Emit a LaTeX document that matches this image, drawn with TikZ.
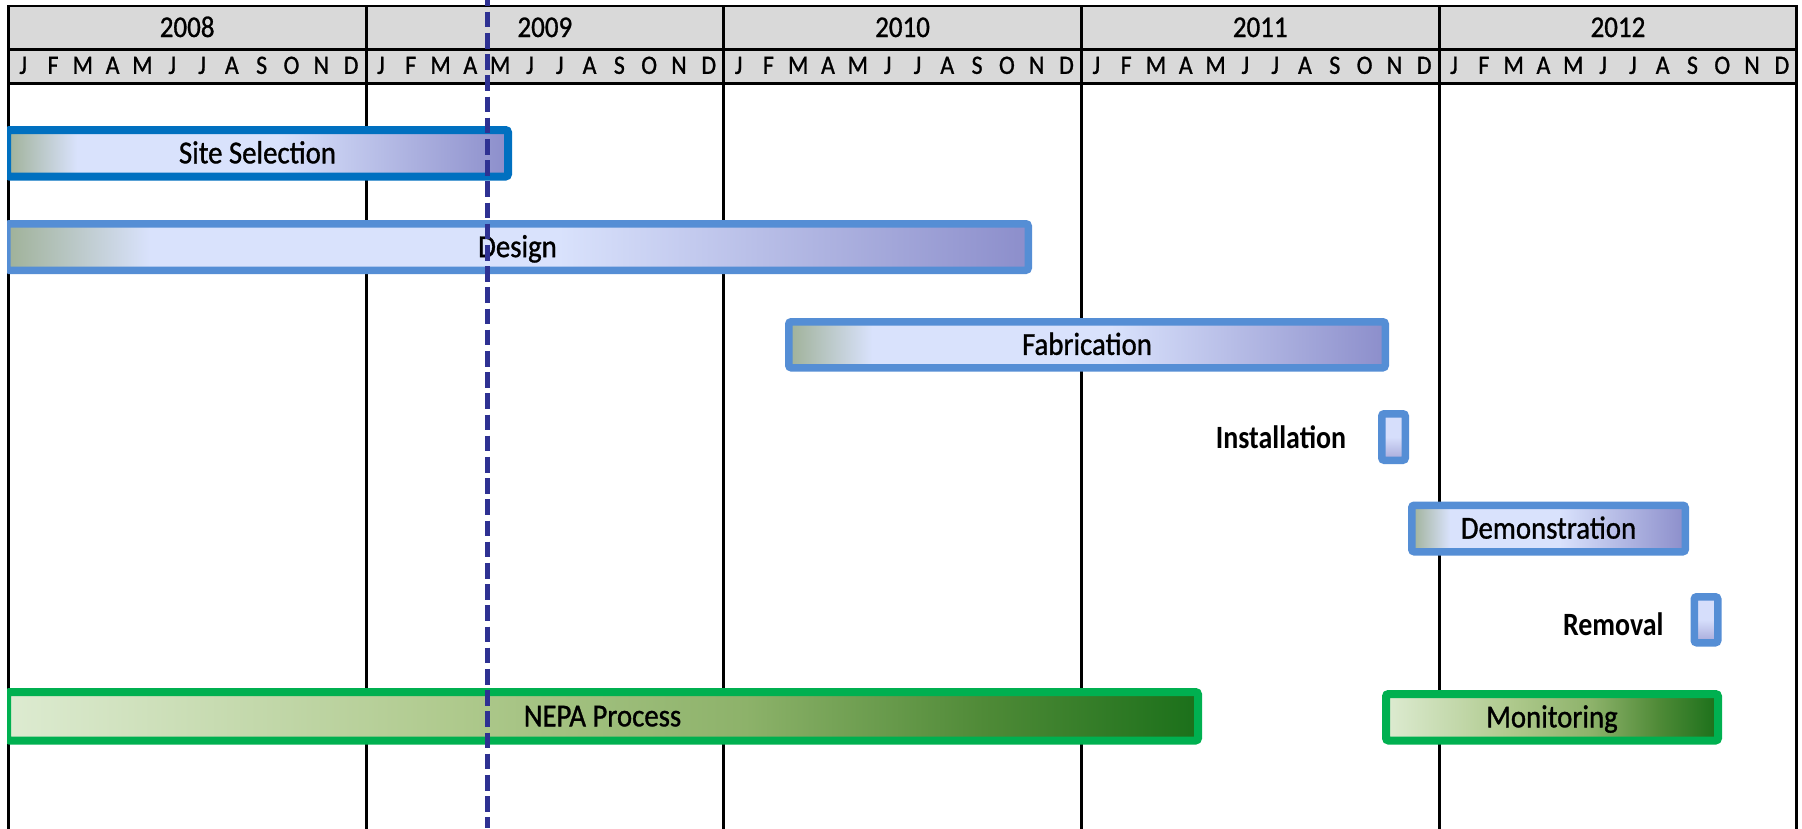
\documentclass[tikz,border=0pt]{standalone}
\usepackage{fontspec}
\setmainfont{Carlito}
\newfontfamily\lblfamily{Carlito}[FakeStretch=0.9, FakeBold=1]
\newfontfamily\sidefamily{Carlito}[FakeStretch=0.86]
\usetikzlibrary{positioning}

% palette
\definecolor{hdrgray}{HTML}{D9D9D9}
\definecolor{siteblue}{HTML}{0070C0}
\definecolor{barblue}{HTML}{558ED5}
\definecolor{bargreen}{HTML}{00B050}
\definecolor{dashblue}{HTML}{2E3192}
\definecolor{blueA}{HTML}{9FB198}
\definecolor{blueB}{HTML}{D9E2FC}
\definecolor{blueC}{HTML}{8C8ECB}
\definecolor{greenA}{HTML}{DDEBD1}
\definecolor{greenB}{HTML}{AEC98C}
\definecolor{greenC}{HTML}{8DB26A}
\definecolor{greenD}{HTML}{4F8A37}
\definecolor{greenE}{HTML}{1B701A}
\definecolor{tickA}{HTML}{D6DEFB}
\definecolor{tickB}{HTML}{A6A8D9}

% bar fills: the band 25bp..75bp is stretched over each bar
\pgfdeclarehorizontalshading{bluegrad}{100bp}{%
  color(0bp)=(blueA); color(25bp)=(blueA); color(32bp)=(blueB);
  color(52bp)=(blueB); color(75bp)=(blueC); color(100bp)=(blueC)}
\pgfdeclarehorizontalshading{greengrad}{100bp}{%
  color(0bp)=(greenA); color(25bp)=(greenA); color(44bp)=(greenB);
  color(56bp)=(greenC); color(66bp)=(greenD); color(75bp)=(greenE);
  color(100bp)=(greenE)}

\newcommand\barfont{\lblfamily\fontsize{32}{33}\selectfont}
\newcommand\sidefont{\sidefamily\bfseries\fontsize{32.5}{33}\selectfont}
\newcommand\yearfont{\lblfamily\fontsize{30}{31}\selectfont}
\newcommand\monthfont{\lblfamily\fontsize{26.5}{27}\selectfont}

\begin{document}
\begin{tikzpicture}[x=1pt,y=-1pt,
  gridline/.style={black, line width=3pt, line cap=rect},
  bar/.style={inner sep=0pt, outer sep=0pt, rounded corners=2.5pt,
    font=\barfont, text height=20.2pt, text depth=0pt},
  bluebar/.style={bar, draw=barblue, line width=7.5pt, shading=bluegrad},
  sitebar/.style={bluebar, draw=siteblue, line width=8pt},
  greenbar/.style={bar, draw=bargreen, line width=8pt, shading=greengrad},
  tickbar/.style={bar, draw=barblue, line width=7.5pt,
    top color=tickA, bottom color=tickB, middle color=tickA},
  sidelabel/.style={font=\sidefont, inner sep=0pt, anchor=east,
    text height=20.5pt, text depth=0pt},
  yearlabel/.style={font=\yearfont, inner sep=0pt, text height=19pt, text depth=0pt},
  monthlabel/.style={font=\monthfont, inner sep=0pt, text height=16.7pt, text depth=0pt},
  todayline/.style={dashblue, line width=4.5pt, dash pattern=on 15.6pt off 5.6pt,
    dash phase=9.5pt}
]
\fill[white] (0,0) rectangle (1802,828);
\useasboundingbox (0,0) rectangle (1802,828);

% header band: years and months
\fill[hdrgray] (8.3,6) rectangle (1796.8,83);
\draw[gridline, line width=2.5pt] (8.3,6) -- (1796.8,6);
\draw[gridline] (8.3,49) -- (1796.8,49);
\draw[gridline] (8.3,83) -- (1796.8,83);
\foreach \k in {0,...,5}
  \draw[gridline] ({8.3+357.7*\k},6) -- ({8.3+357.7*\k},832);

\foreach \yr [count=\k from 0] in {2008,2009,2010,2011,2012} {
  \node[yearlabel] (yr\yr) at ({8.3+357.7*(\k+0.5)},27.5) {\yr};
  \foreach \mn [count=\m from 0] in {J,F,M,A,M,J,J,A,S,O,N,D}
    \node[monthlabel] (m\yr-\m) at ({8.3+357.7*\k+29.808*(\m+0.5)},65.5) {\mn};
}

% task bars
\begin{scope}
\clip (7,0) rectangle (1802,828);
\node[sitebar, minimum width=501pt, minimum height=46.5pt]
  (site) at (257.5,153.25) {Site Selection};
\node[bluebar, minimum width=1021.5pt, minimum height=46.5pt]
  (design) at (517.5,247) {Design};
\node[bluebar, minimum width=596.5pt, minimum height=46pt]
  (fab) at (1087,344.75) {Fabrication};
\node[tickbar, minimum width=23.5pt, minimum height=46.5pt]
  (inst) at (1393.5,437) {};
\node[bluebar, minimum width=273.5pt, minimum height=46.5pt]
  (demo) at (1548.5,528.5) {Demonstration};
\node[tickbar, minimum width=23.5pt, minimum height=46pt]
  (rem) at (1706,619.75) {};
\node[greenbar, minimum width=1191pt, minimum height=48.5pt]
  (nepa) at (602.5,716.25) {NEPA Process};
\node[greenbar, minimum width=332pt, minimum height=46.5pt]
  (mon) at (1552,717.25) {Monitoring};
\end{scope}

\node[sidelabel] (instlabel) at ([xshift=-35.5pt,yshift=-1.5pt]inst.west) {Installation};
\node[sidelabel] (remlabel) at ([xshift=-30.5pt,yshift=-5pt]rem.west) {Removal};

% status date marker
\coordinate (nowtop) at (487.3,0);
\coordinate (nowbot) at (487.3,828);
\draw[todayline] (nowtop) -- (nowbot);
\end{tikzpicture}
\end{document}
